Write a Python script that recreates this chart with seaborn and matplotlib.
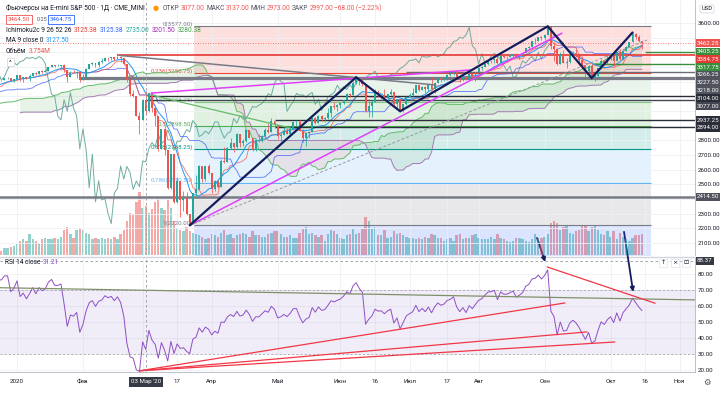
import numpy as np
import pandas as pd
import matplotlib
matplotlib.use('Agg')
import matplotlib.pyplot as plt
import seaborn as sns

# ---- price data: ES1! daily, open = previous close ----
# history used only to warm up Ichimoku / RSI (Sep 16 - Dec 31 2019)
close_2019 = [2983, 2991, 2991, 2991, 2977, 2977, 2952, 2969, 2962, 2946, 2962,
              2925, 2872, 2895, 2937, 2923, 2878, 2904, 2923, 2955, 2951, 2980, 2975,
              2983, 2971, 2992, 2981, 2989, 2995, 3008, 3024, 3021, 3032, 3023,
              3052, 3063, 3060, 3062, 3070, 3078, 3072, 3076, 3079, 3082, 3105, 3107,
              3105, 3093, 3089, 3095, 3119, 3126, 3138, 3126,
              3098, 3078, 3098, 3102, 3131, 3121, 3118, 3127, 3154, 3154, 3176, 3177,
              3176, 3191, 3206, 3209, 3208, 3225, 3225, 3206, 3216]
high_2019 = [2995, 2996, 2998, 3006, 2995, 2985, 2988, 2972, 2974, 2972, 2970,
             2968, 2925, 2898, 2940, 2947, 2920, 2914, 2935, 2978, 2961, 2988, 2985,
             2995, 2986, 2995, 2995, 2992, 3001, 3010, 3030, 3030, 3036, 3036,
             3057, 3068, 3073, 3068, 3082, 3080, 3075, 3083, 3083, 3084, 3106, 3110,
             3113, 3103, 3095, 3100, 3120, 3129, 3139, 3137,
             3139, 3090, 3102, 3105, 3135, 3133, 3125, 3131, 3161, 3167, 3182, 3183,
             3180, 3193, 3211, 3212, 3211, 3226, 3234, 3226, 3218]
low_2019 = [2975, 2980, 2976, 2985, 2970, 2965, 2947, 2945, 2952, 2935, 2940,
            2920, 2865, 2845, 2893, 2918, 2875, 2880, 2898, 2925, 2944, 2958, 2970,
            2973, 2960, 2978, 2978, 2975, 2983, 2993, 3010, 3014, 3015, 3012,
            3035, 3054, 3057, 3053, 3065, 3058, 3060, 3066, 3069, 3071, 3086, 3100,
            3101, 3076, 3080, 3085, 3102, 3116, 3125, 3124,
            3090, 3054, 3082, 3090, 3113, 3120, 3108, 3117, 3120, 3145, 3161, 3173,
            3174, 3175, 3192, 3201, 3206, 3208, 3219, 3202, 3198]
volume_dec_2019 = [1.2, 1.3, 1.2, 1.0, 1.0, 1.1, 1.0, 1.2, 1.6, 1.5, 1.0, 0.9, 0.8,
                   0.9, 1.0, 0.6, 0.3, 0.5, 0.5, 0.6, 0.7]

# Jan 2 - Oct 15 2020
close_2020 = [3243, 3220, 3231, 3222, 3238, 3260, 3250, 3273, 3268, 3274, 3302, 3315,
              3306, 3306, 3311, 3280, 3229, 3261, 3258, 3269, 3211,
              3234, 3283, 3320, 3330, 3313, 3337, 3343, 3364, 3359, 3365, 3355, 3371,
              3358, 3323, 3211, 3113, 3101, 2964, 2939,
              3077, 2997, 3125, 3019, 2967, 2742, 2877, 2736, 2476, 2706, 2381, 2524,
              2393, 2404, 2300, 2232, 2442, 2471, 2625, 2536, 2622, 2580,
              2466, 2522, 2484, 2659, 2654, 2745, 2785, 2757, 2841, 2779, 2795, 2870,
              2818, 2732, 2794, 2793, 2832, 2873, 2858, 2935, 2907,
              2826, 2838, 2863, 2844, 2877, 2925, 2925, 2865, 2815, 2847, 2859, 2949,
              2917, 2967, 2944, 2950, 2987, 3031, 3025, 3039,
              3051, 3076, 3117, 3107, 3189, 3227, 3202, 3185, 2997, 3036, 3062, 3120,
              3108, 3110, 3093, 3113, 3126, 3045, 3079, 3004, 3048, 3095,
              3111, 3125, 3175, 3140, 3165, 3147, 3180, 3150, 3192, 3222, 3211, 3220,
              3246, 3253, 3271, 3231, 3211, 3234, 3213, 3253, 3241, 3266,
              3290, 3301, 3322, 3345, 3346, 3355, 3328, 3375, 3368, 3368, 3377, 3385,
              3370, 3380, 3392, 3426, 3438, 3474, 3479, 3503, 3495,
              3520, 3570, 3445, 3420, 3320, 3390, 3330, 3333, 3375, 3392, 3377, 3350,
              3312, 3272, 3306, 3228, 3237, 3290, 3342, 3326, 3354,
              3372, 3340, 3400, 3353, 3410, 3438, 3468, 3525, 3503, 3480, 3462.25]
high_2020 = [3243, 3231, 3232, 3230, 3252, 3261, 3268, 3273, 3279, 3283, 3302, 3315,
             3314, 3322, 3312, 3319, 3244, 3270, 3278, 3270, 3267,
             3252, 3290, 3322, 3333, 3326, 3338, 3360, 3366, 3366, 3366, 3363, 3378,
             3378, 3345, 3244, 3225, 3146, 3082, 2990,
             3085, 3137, 3125, 3080, 2980, 2858, 2877, 2820, 2655, 2706, 2550, 2550,
             2466, 2453, 2448, 2292, 2444, 2566, 2632, 2610, 2625, 2636,
             2520, 2530, 2530, 2670, 2752, 2755, 2813, 2775, 2848, 2810, 2807, 2875,
             2865, 2785, 2810, 2845, 2838, 2882, 2920, 2950, 2925,
             2878, 2842, 2890, 2885, 2895, 2928, 2940, 2940, 2875, 2852, 2865, 2962,
             2960, 2970, 2975, 2958, 3020, 3032, 3063, 3045,
             3055, 3078, 3125, 3125, 3207, 3230, 3220, 3218, 3120, 3080, 3075, 3150,
             3140, 3118, 3150, 3118, 3150, 3110, 3080, 3070, 3050, 3105,
             3125, 3160, 3180, 3175, 3168, 3167, 3182, 3230, 3195, 3235, 3218, 3225,
             3252, 3273, 3272, 3275, 3230, 3238, 3240, 3262, 3250, 3268,
             3298, 3305, 3325, 3348, 3350, 3358, 3375, 3380, 3380, 3375, 3385, 3390,
             3392, 3385, 3395, 3430, 3440, 3478, 3495, 3505, 3510,
             3525, 3577, 3560, 3470, 3400, 3405, 3418, 3362, 3400, 3412, 3420, 3360,
             3372, 3290, 3310, 3318, 3265, 3295, 3352, 3350, 3390,
             3390, 3365, 3405, 3420, 3415, 3445, 3470, 3540, 3530, 3515, 3480]
low_2020 = [3210, 3207, 3199, 3217, 3206, 3248, 3243, 3253, 3262, 3265, 3287, 3302,
            3301, 3305, 3287, 3266, 3199, 3235, 3256, 3228, 3199,
            3213, 3252, 3290, 3316, 3300, 3300, 3330, 3343, 3340, 3350, 3340, 3360,
            3335, 3313, 3199, 3104, 3093, 2963, 2840,
            2940, 2973, 2990, 2995, 2896, 2730, 2740, 2700, 2470, 2470, 2375, 2375,
            2275, 2315, 2290, 2220, 2230, 2420, 2460, 2515, 2525, 2570,
            2444, 2452, 2475, 2480, 2648, 2652, 2740, 2720, 2750, 2755, 2760, 2790,
            2815, 2725, 2730, 2787, 2788, 2830, 2850, 2855, 2885,
            2810, 2795, 2835, 2840, 2840, 2875, 2900, 2862, 2790, 2760, 2815, 2855,
            2912, 2915, 2930, 2925, 2945, 2962, 3015, 3000,
            3020, 3045, 3085, 3097, 3110, 3185, 3180, 3170, 2995, 2962, 2960, 3060,
            3100, 3085, 3080, 3070, 3110, 3035, 3020, 2998, 2990, 3040,
            3095, 3105, 3120, 3138, 3140, 3122, 3135, 3145, 3125, 3190, 3195, 3205,
            3210, 3240, 3245, 3220, 3195, 3205, 3208, 3210, 3210, 3205,
            3265, 3280, 3300, 3315, 3325, 3330, 3320, 3335, 3360, 3355, 3365, 3370,
            3365, 3355, 3375, 3400, 3420, 3435, 3455, 3475, 3485,
            3485, 3515, 3420, 3340, 3315, 3318, 3325, 3295, 3330, 3375, 3370, 3315,
            3295, 3225, 3265, 3225, 3205, 3225, 3288, 3315, 3320,
            3350, 3300, 3340, 3345, 3350, 3410, 3435, 3470, 3490, 3470, 3420]
volume_2020 = [0.9, 1.1, 1.2, 1.1, 1.6, 1.2, 1.1, 0.9, 1.2, 1.3, 1.2, 1.2, 1.3, 1.2,
               1.4, 1.9, 2.1, 1.6, 1.3, 1.9, 2.0,
               1.9, 1.7, 1.6, 1.2, 1.3, 1.2, 1.3, 1.2, 1.3, 1.2, 1.4, 1.2, 1.6, 1.9,
               2.6, 3.2, 3.1, 4.0, 4.8,
               3.6, 3.754, 3.2, 3.5, 4.0, 4.4, 3.6, 3.4, 4.2, 3.6, 2.6, 2.0, 1.9, 1.8,
               2.1, 1.8, 1.7, 1.6, 1.5, 1.4, 1.2, 1.3,
               1.6, 1.5, 1.4, 1.7, 1.9, 1.5, 1.6, 1.3, 1.5, 1.6, 1.7, 1.6, 1.4, 1.8,
               1.5, 1.5, 1.4, 1.4, 1.6, 1.7, 1.8,
               1.8, 1.6, 1.4, 1.4, 1.5, 1.3, 1.3, 1.7, 2.0, 2.1, 1.6, 1.7, 1.5, 1.4,
               1.5, 1.1, 1.6, 1.9, 1.8, 1.6,
               1.3, 1.2, 1.5, 1.6, 2.0, 1.6, 1.7, 2.0, 2.9, 2.6, 2.0, 2.1, 1.5, 1.5,
               1.9, 1.3, 1.4, 1.8, 1.6, 1.7, 1.5, 1.4,
               1.3, 1.3, 1.2, 1.3, 1.2, 1.4, 1.3, 1.6, 1.5, 1.3, 1.3, 1.1, 1.2, 1.3,
               1.1, 1.5, 1.6, 1.2, 1.3, 1.3, 1.5, 1.6,
               1.3, 1.2, 1.2, 1.2, 1.4, 1.2, 1.6, 1.3, 1.2, 1.1, 1.0, 1.1, 1.3, 1.3,
               1.2, 1.1, 1.0, 1.2, 1.6, 1.3, 1.3,
               1.4, 1.6, 2.4, 2.6, 2.4, 1.9, 2.1, 2.2, 1.7, 1.6, 1.8, 1.9, 2.2, 2.3,
               1.8, 2.1, 2.2, 1.9, 1.6, 1.5, 1.8,
               1.4, 1.8, 1.2, 1.7, 1.4, 1.2, 1.1, 1.3, 1.5, 1.5, 1.6]

# date axis (bar index 0 = Jan 2 2020)
tick_idx = [0, 21, 51, 62, 83, 103, 114, 125, 137, 147, 168, 189, 200, 211]
tick_lbl = ['2020', 'Фев', '17', 'Апр', 'Май', 'Июн', '16', 'Июл', '17', 'Авг',
            'Сен', 'Окт', '16', 'Ноя']

# drawings (bar index, price)
fib_high, fib_low = 3577.0, 2220.0
fib_levels = [0, 0.236, 0.382, 0.5, 0.618, 0.786, 1, 1.618]
fib_span = (56.5, 202.0)
zigzag_i = [55, 108, 122, 169, 183, 196]
zigzag_p = [2220, 3230, 2998, 3577, 3225, 3535]
level_prices = [3405.25, 3384.75, 3317.75, 3266.25, 3227.50, 3218.00, 3104.00,
                3077.00, 2937.25, 2894.00, 2414.50]
level_start = [200, 32, 184, 124, 20, 20, 42, 41, 82, 82, -6]
last_price = 3462.25
# RSI drawings (bar index, RSI)
rsi_fan_start = (39, 19.5)
rsi_fan_ends = [(174.5, 61.9), (181.5, 43.8), (190.4, 37.5)]
rsi_top_line = [(168.8, 84.4), (203.2, 61.7)]
rsi_flat_line = [(-5.4, 71.4), (215.9, 63.8)]

# ---- build frame and indicators ----
closes = np.array(close_2019 + close_2020, float)
highs = np.array(high_2019 + high_2020, float)
lows = np.array(low_2019 + low_2020, float)
opens = np.r_[closes[0], closes[:-1]]
highs = np.maximum.reduce([highs, opens, closes])
lows = np.minimum.reduce([lows, opens, closes])
idx = np.arange(len(closes)) - len(close_2019)
df = pd.DataFrame({'i': idx, 'open': opens, 'high': highs, 'low': lows, 'close': closes})

tenkan = (df.high.rolling(9).max() + df.low.rolling(9).min()) / 2
kijun = (df.high.rolling(26).max() + df.low.rolling(26).min()) / 2
lead_a = ((tenkan + kijun) / 2).shift(25)
lead_b = ((df.high.rolling(52).max() + df.low.rolling(52).min()) / 2).shift(25)
lagging = df.close.shift(-25)
df['ma9'] = df.close.rolling(9).mean()
delta = df.close.diff()
gain = delta.clip(lower=0).ewm(alpha=1 / 14, adjust=False).mean()
loss = (-delta.clip(upper=0)).ewm(alpha=1 / 14, adjust=False).mean()
df['rsi'] = 100 - 100 / (1 + gain / loss)

vol = pd.Series(volume_dec_2019 + volume_2020,
                index=np.arange(-len(volume_dec_2019), len(volume_2020)))

# ---- figure ----
sns.set_theme(style='white')
plt.rcParams['font.family'] = ['Roboto', 'DejaVu Sans']
W, H = 720, 393
fig = plt.figure(figsize=(W / 100, H / 100), dpi=100)
fig.patch.set_facecolor('white')
ax = fig.add_axes([0, 1 - 255 / H, 695 / W, 255 / H])
axv = ax.twinx()
axr = fig.add_axes([0, 1 - 372 / H, 695 / W, 115 / H])
ax.set_zorder(2)
ax.patch.set_visible(False)
axv.set_zorder(1)

XL = (-5.41, 215.9)
PL = (2018.2, 3756.5)
RL = (18.75, 90.6)
UP, DN = '#26a69a', '#ef5350'
TXT = '#131722'
FS = 4.4

def fx(px):
    return px / W

def fy(py):
    return 1 - py / H

# grid
for a in (ax, axr):
    a.set_xlim(*XL)
    a.set_xticks(tick_idx + [40])
    a.grid(True, axis='x', color='#eef0f5', lw=0.6)
ax.set_ylim(*PL)
price_ticks = np.arange(2100, 3601, 100)
ax.set_yticks(price_ticks)
ax.grid(True, axis='y', color='#eef0f5', lw=0.6)
ax.set_xticklabels([])
ax.yaxis.tick_right()
ax.tick_params(axis='y', length=0, pad=2, labelsize=FS, labelcolor=TXT)
ax.tick_params(axis='x', length=0)
for s in ax.spines.values():
    s.set_visible(False)
ax.spines['right'].set_visible(True)
ax.spines['right'].set_color('#b2b5be')
ax.spines['right'].set_linewidth(0.6)

# fib zones
fib_colors = ['#787b86', '#f44336', '#81c784', '#4caf50', '#009688', '#64b5f6',
              '#787b86', '#2962ff']
fib_p = [fib_high - k * (fib_high - fib_low) for k in fib_levels]
x0, x1 = fib_span
for k in range(1, len(fib_p)):
    ax.fill_between([x0, x1], fib_p[k], fib_p[k - 1], color=fib_colors[k],
                    alpha=0.17, lw=0, zorder=0.5)
for k, p in enumerate(fib_p):
    ax.hlines(p, x0, x1, color=fib_colors[k], lw=0.8, zorder=0.8)
    if fib_levels[k] <= 1:
        pr = round(p * 4) / 4
        ax.annotate(f'{fib_levels[k]:g}({pr:.2f})', (x0, p), xytext=(-1, 1.6),
                    textcoords='offset points', ha='right', va='center',
                    fontsize=FS, color=fib_colors[k], zorder=0.9)

# ichimoku cloud
ax.fill_between(df.i, lead_a, lead_b, where=lead_a >= lead_b, interpolate=True,
                color='#43a047', alpha=0.12, lw=0, zorder=1)
ax.fill_between(df.i, lead_a, lead_b, where=lead_a < lead_b, interpolate=True,
                color='#e53935', alpha=0.09, lw=0, zorder=1)
ax.plot(df.i, lead_a, color='#66bb6a', lw=0.7, zorder=1.2)
ax.plot(df.i, lead_b, color='#a57bb5', lw=0.7, zorder=1.2)
ax.plot(df.i, lagging, color='#5fa596', lw=0.7, alpha=0.9, zorder=1.3)
ax.plot(df.i, kijun, color='#3d5afe', lw=0.6, alpha=0.8, zorder=1.4)
ax.plot(df.i, tenkan, color='#ef5350', lw=0.6, alpha=0.8, zorder=1.4)
sns.lineplot(data=df, x='i', y='ma9', color='#2196f3', lw=0.7, ax=ax, zorder=1.5)
ax.set_xlabel('')
ax.set_ylabel('')

# volume
vis_v = vol.index >= -6
vcol = np.where(df.set_index('i').reindex(vol.index).eval('close >= open'), UP, DN)
axv.bar(vol.index[vis_v], vol.values[vis_v], width=0.75, color=vcol[vis_v],
        alpha=0.5, lw=0)
axv.set_ylim(0, 19.4)
axv.set_xlim(*XL)
axv.axis('off')

# horizontal levels
lvl_colors = ['#388e3c', '#e53935', '#388e3c', '#6a6d78', '#787b86', '#787b86',
              '#2a2e39', '#434651', '#2a2e39', '#2a2e39', '#787b86']
lvl_widths = [1.0, 1.2, 1.0, 1.0, 1.6, 1.6, 1.0, 1.0, 1.0, 1.0, 1.8]
for p, s, c, w in zip(level_prices, level_start, lvl_colors, lvl_widths):
    ax.hlines(p, s, XL[1], color=c, lw=w, zorder=2)
ax.axhline(last_price, color='#ef5350', lw=0.6, ls=(0, (1, 2)), zorder=2)

# candles
vis = df.i >= -6
d = df[vis]
ccol = np.where(d.close >= d.open, UP, DN)
ax.vlines(d.i, d.low, d.high, colors=ccol, lw=0.55, zorder=4)
ax.bar(d.i, np.maximum((d.close - d.open).abs(), 2.0), bottom=np.minimum(d.open, d.close),
       width=0.62, color=ccol, lw=0, zorder=5)

# trend drawings
ax.plot(zigzag_i, zigzag_p, color='#131d5c', lw=1.6, zorder=6, solid_joinstyle='miter')
ax.plot([55, 173.5], [2220, 3530], color='#e040fb', lw=1.1, zorder=5.5)
ax.plot([42.7, 144.3], [3122, 3279], color='#e040fb', lw=1.1, zorder=5.5)
ax.plot([33, 133.4], [3378, 3177], color='#787b86', lw=1.1, zorder=5.5)
ax.plot([42.7, 87], [3109, 2884], color='#66bb6a', lw=0.9, zorder=5.5)
ax.plot([55, 200.6], [2220, 3484], color='#9598a1', lw=0.7, ls=(0, (3, 2)), zorder=5.5)
ax.axvline(41, color='#9598a1', lw=0.6, ls=(0, (3, 3)), zorder=7)

# ---- RSI pane ----
axr.set_ylim(*RL)
axr.set_yticks(np.arange(20, 81, 10))
axr.yaxis.tick_right()
axr.yaxis.set_major_formatter(matplotlib.ticker.FormatStrFormatter('%.2f'))
axr.tick_params(axis='y', length=0, pad=2, labelsize=FS, labelcolor=TXT)
axr.grid(True, axis='y', color='#eef0f5', lw=0.6)
axr.set_xticklabels(tick_lbl + [''])
axr.tick_params(axis='x', length=0, pad=5, labelsize=FS, labelcolor=TXT)
for s in axr.spines.values():
    s.set_visible(False)
axr.spines['right'].set_visible(True)
axr.spines['right'].set_color('#b2b5be')
axr.spines['right'].set_linewidth(0.6)
axr.spines['top'].set_visible(True)
axr.spines['top'].set_color('#d1d4dc')
axr.spines['top'].set_linewidth(1.0)
axr.spines['bottom'].set_visible(True)
axr.spines['bottom'].set_color('#b2b5be')
axr.spines['bottom'].set_linewidth(0.6)
axr.axhspan(30, 70, color='#7e57c2', alpha=0.1, lw=0)
axr.axhline(70, color='#9598a1', lw=0.5, ls=(0, (3, 3)))
axr.axhline(30, color='#9598a1', lw=0.5, ls=(0, (3, 3)))
rv = df[vis]
sns.lineplot(data=rv, x='i', y='rsi', color='#8e4fc6', lw=0.7, ax=axr)
axr.set_xlabel('')
axr.set_ylabel('')
axr.plot(*zip(*rsi_flat_line), color='#7f9068', lw=0.9)
for e in rsi_fan_ends:
    axr.plot([rsi_fan_start[0], e[0]], [rsi_fan_start[1], e[1]], color='#f23645', lw=0.9)
axr.plot(*zip(*rsi_top_line), color='#f23645', lw=0.9)
axr.axvline(41, color='#9598a1', lw=0.6, ls=(0, (3, 3)))
axr.axhline(88.37, color='#9598a1', lw=0.6, ls=(0, (3, 3)))
for tip, tail in [((168.2, 87.5), (165.6, 102.5)), ((196.2, 68.8), (193.3, 106.3))]:
    axr.annotate('', xy=tip, xytext=tail, annotation_clip=False,
                 arrowprops=dict(arrowstyle='-|>', color='#131d5c', lw=1.3,
                                 mutation_scale=6, shrinkA=0, shrinkB=0))

# ---- right-side price tags ----
fig.canvas.draw()
tags = [(last_price, '#ef5350')] + list(zip(level_prices, lvl_colors))
tags.sort(key=lambda t: -t[0])
prev = -99
tag_py = []
for p, c in tags:
    py = H - ax.transData.transform((0, p))[1]
    py = max(py, prev + 7.8)
    prev = py
    tag_py.append(py)
    fc = {'#6a6d78': '#50535e', '#787b86': '#50535e', '#434651': '#434651'}.get(c, c)
    fig.text(fx(697), fy(py), f'{p:.2f}', fontsize=FS, color='white', va='center',
             ha='left', bbox=dict(boxstyle='square,pad=0.22', fc=fc, ec='none'))
# price tick labels hidden where a tag sits on top of them
tick_text = []
for t in price_ticks:
    py = H - ax.transData.transform((0, t))[1]
    hidden = min(abs(py - q) for q in tag_py) < 8.5
    tick_text.append('' if hidden else f'{t:.2f}')
ax.set_yticklabels(tick_text)

fig.text(fx(697), fy(260.7), '88.37', fontsize=FS, color='white', va='center',
         bbox=dict(boxstyle='square,pad=0.22', fc='#363a45', ec='none'))
fig.text(fx(707), fy(9), 'USD', fontsize=4.2, color=TXT, va='center', ha='center',
         bbox=dict(boxstyle='round,pad=0.25', fc='white', ec='#d1d4dc', lw=0.5))
px41 = ax.transData.transform((41, 0))[0]
fig.text(fx(px41), fy(382), "03 Мар '20", fontsize=FS, color='white', va='center',
         ha='center', bbox=dict(boxstyle='square,pad=0.35', fc='#363a45', ec='none'))
fig.text(fx(707), fy(382), '⚙', fontsize=6, color='#50535e', va='center', ha='center',
         family=['DejaVu Sans'])

# ---- legends ----
renderer = fig.canvas.get_renderer()

def seq(x, y, parts, size=4.7, gap=2.3):
    for s, c in parts:
        t = fig.text(fx(x), fy(y), s, color=c, fontsize=size, va='center', ha='left')
        x += t.get_window_extent(renderer).width + gap
    return x

GR = '#50535e'
RED = '#ef5350'
x = seq(6, 8, [('Фьючерсы на E-mini S&P 500 · 1Д · CME_MINI', TXT)], size=4.8)
fig.text(fx(x + 6), fy(8), '●', color='#ff9800', fontsize=5, va='center',
         family=['DejaVu Sans'])
seq(x + 16, 8, [('ОТКР', GR), ('3077.00', RED), ('МАКС', GR), ('3137.00', RED),
                ('МИН', GR), ('2973.00', RED), ('ЗАКР', GR), ('2997.00', RED),
                ('−68.00 (−2.22%)', RED)], gap=1.2)
fig.text(fx(8), fy(19.5), '3464.50', fontsize=FS, color=RED, va='center',
         bbox=dict(boxstyle='square,pad=0.3', fc='white', ec=RED, lw=0.6))
fig.text(fx(37), fy(19.5), '0.25', fontsize=4.0, color=GR, va='center')
fig.text(fx(50), fy(19.5), '3464.75', fontsize=FS, color='#2962ff', va='center',
         bbox=dict(boxstyle='square,pad=0.3', fc='white', ec='#2962ff', lw=0.6))
seq(6, 30.5, [('Ichimoku2c 9 26 52 26', TXT), ('3125.38', '#e53935'),
              ('3125.38', '#2962ff'), ('2735.00', '#26a69a'), ('3201.50', '#9c27b0'),
              ('3280.38', '#43a047')])
seq(6, 41, [('MA 9 close 0', TXT), ('3127.50', '#2196f3')])
seq(6, 51.5, [('Объём', TXT), ('3.754M', RED)])
fig.text(fx(9), fy(62), '^', fontsize=4.5, color=TXT, va='center',
         bbox=dict(boxstyle='square,pad=0.3', fc='white', ec='#d1d4dc', lw=0.5))
seq(5, 262, [('RSI 14 close', TXT), ('31.21', '#8e4fc6')])
for xb, g in [(663, '↑'), (675, '×'), (686, '⊡')]:
    fig.text(fx(xb), fy(263), g, fontsize=4.5, color=TXT, va='center', ha='center',
             family=['DejaVu Sans'],
             bbox=dict(boxstyle='square,pad=0.25', fc='white', ec='#e0e3eb', lw=0.5))

fig.savefig('out.png', dpi=100)
